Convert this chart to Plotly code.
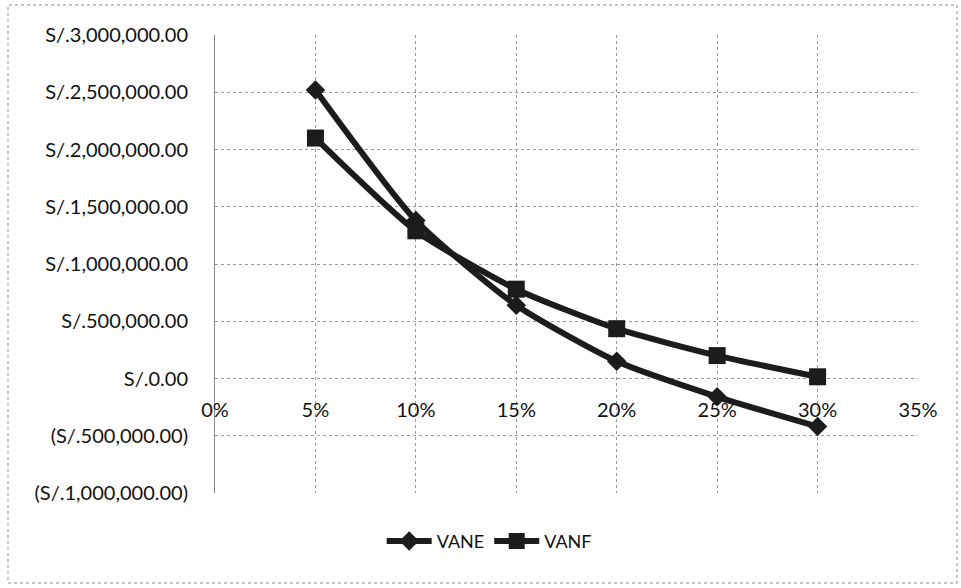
import plotly.graph_objects as go

# Discount rates (fraction) and net present values for the two scenarios
rates = [0.05, 0.10, 0.15, 0.20, 0.25, 0.30]
vane = [2520000, 1380000, 640000, 150000, -160000, -420000]
vanf = [2100000, 1290000, 780000, 435000, 200000, 15000]

y_ticks = [3000000, 2500000, 2000000, 1500000, 1000000, 500000, 0, -500000, -1000000]
y_labels = ["S/.3,000,000.00", "S/.2,500,000.00", "S/.2,000,000.00", "S/.1,500,000.00",
            "S/.1,000,000.00", "S/.500,000.00", "S/.0.00", "(S/.500,000.00)",
            "(S/.1,000,000.00)"]
x_ticks = [0, 0.05, 0.10, 0.15, 0.20, 0.25, 0.30, 0.35]
x_labels = ["0%", "5%", "10%", "15%", "20%", "25%", "30%", "35%"]

W, H = 961, 588
ML, MR, MT, MB = 215, 43, 35, 95
PW, PH = W - ML - MR, H - MT - MB

LINE = "#1c1c1c"
FONT = "Lato"

fig = go.Figure()
fig.add_trace(go.Scatter(
    x=rates, y=vane, name="VANE", mode="lines+markers",
    line=dict(color=LINE, width=6, shape="spline", smoothing=0.6),
    marker=dict(symbol="diamond", size=15, color=LINE),
))
fig.add_trace(go.Scatter(
    x=rates, y=vanf, name="VANF", mode="lines+markers",
    line=dict(color=LINE, width=6, shape="spline", smoothing=0.6),
    marker=dict(symbol="square", size=17, color=LINE),
))

ymin, ymax = -1000000, 3000000
zero_pos = (0 - ymin) / (ymax - ymin)

fig.update_layout(
    width=W, height=H,
    margin=dict(l=ML, r=MR, t=MT, b=MB),
    paper_bgcolor="white", plot_bgcolor="white",
    font=dict(family=FONT, size=19, color="#111111"),
    showlegend=True,
    legend=dict(orientation="h", x=0.39, xanchor="center", y=-0.065, yanchor="top",
                font=dict(family=FONT, size=18), itemwidth=45),
    xaxis=dict(
        range=[0, 0.35], tickvals=x_ticks, ticktext=x_labels,
        showgrid=True, gridcolor="#9a9a9a", gridwidth=1, griddash="dot",
        zeroline=False, showline=False, ticks="",
        anchor="free", position=zero_pos, ticklabelstandoff=17,
        tickfont=dict(family=FONT, size=20),
    ),
    yaxis=dict(
        range=[ymin, ymax], tickvals=y_ticks, ticktext=y_labels,
        showgrid=True, gridcolor="#9a9a9a", gridwidth=1, griddash="dot",
        zeroline=False, showline=True, linecolor="#8a8a8a", linewidth=1,
        ticks="", ticklabelstandoff=22,
        tickfont=dict(family=FONT, size=20),
    ),
    shapes=[dict(
        type="rect", xref="paper", yref="paper",
        x0=(8 - ML) / PW, x1=(957 - ML) / PW,
        y0=(MT + PH - 583) / PH, y1=(MT + PH - 5) / PH,
        line=dict(color="#8a8a8a", width=1, dash="dot"),
    )],
)

fig.write_html("out.html")
